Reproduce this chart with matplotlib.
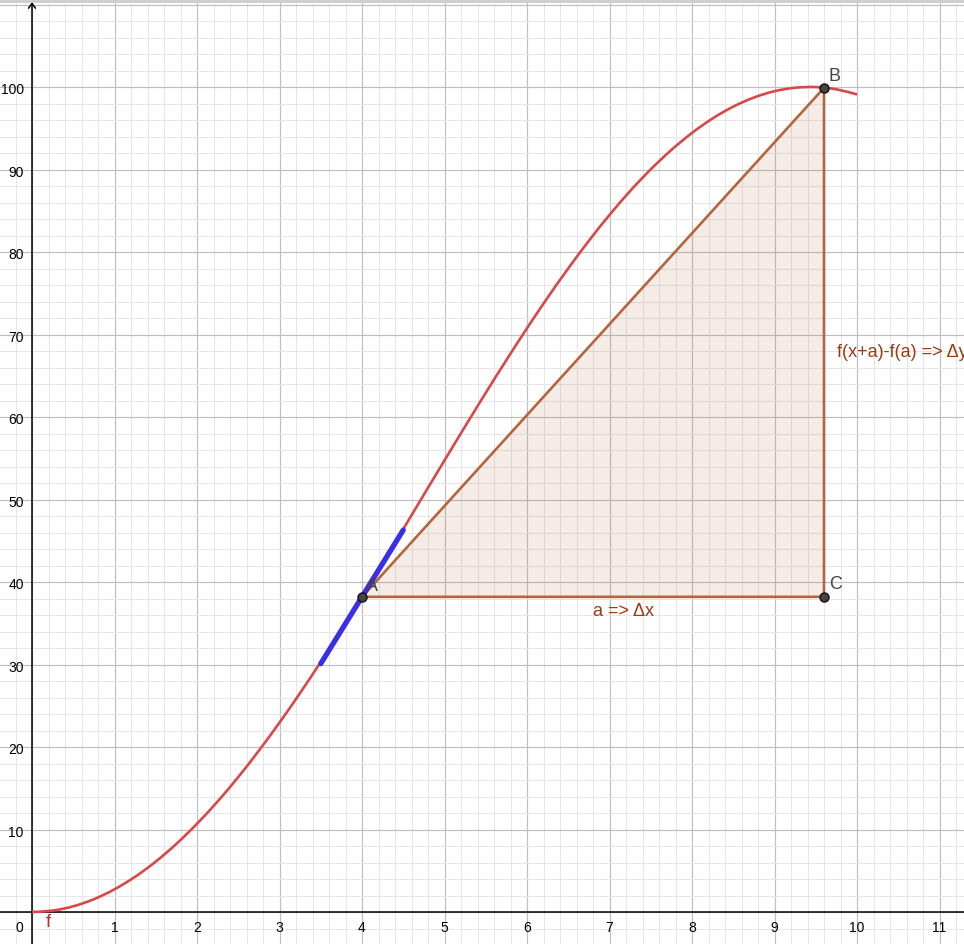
import matplotlib
matplotlib.use("Agg")
import matplotlib.pyplot as plt
from matplotlib.lines import Line2D
from matplotlib.path import Path
from matplotlib.patches import PathPatch

plt.rcParams['font.family'] = ['Liberation Sans', 'DejaVu Sans']

# curve f (step 0.25)
fx = [i * 0.25 for i in range(41)]
fy = [0.00, 0.17, 0.69, 1.55, 2.75, 4.27, 6.11, 8.26, 10.70, 13.40, 16.36,
      19.56, 22.96, 26.55, 30.31, 34.20, 38.20, 42.29, 46.42, 50.59, 54.74,
      58.86, 62.93, 66.90, 70.76, 74.47, 78.01, 81.36, 84.49, 87.39, 90.02,
      92.37, 94.43, 96.19, 97.62, 98.72, 99.49, 99.91, 99.99, 99.72, 99.10]

A = (4.0, 38.2)
B = (9.6, 99.9)
C = (9.6, 38.2)
tangent_x = [3.5, 4.5]
tangent_y = [30.1, 46.3]

x_ticks = list(range(1, 12))
y_ticks = list(range(10, 101, 10))

red = '#d94848'
brown = '#b5653d'
text_brown = '#9c3a12'


def smooth_path(xs, ys):
    # bezier path passing through the given points (catmull-rom handles)
    n = len(xs)
    verts = [(xs[0], ys[0])]
    codes = [Path.MOVETO]
    for i in range(n - 1):
        i0 = max(i - 1, 0)
        i3 = min(i + 2, n - 1)
        c1 = (xs[i] + (xs[i + 1] - xs[i0]) / 6, ys[i] + (ys[i + 1] - ys[i0]) / 6)
        c2 = (xs[i + 1] - (xs[i3] - xs[i]) / 6, ys[i + 1] - (ys[i3] - ys[i]) / 6)
        verts += [c1, c2, (xs[i + 1], ys[i + 1])]
        codes += [Path.CURVE4] * 3
    return Path(verts, codes)


fig = plt.figure(figsize=(9.64, 9.45), dpi=100)
ax = fig.add_axes([0, 0, 1, 1])

# grid
ax.set_xticks(range(0, 12))
ax.set_yticks(range(0, 111, 10))
ax.set_xticks([i * 0.2 for i in range(-1, 58)], minor=True)
ax.set_yticks(range(-2, 111, 2), minor=True)
ax.grid(which='minor', color='#e6e6e6', lw=0.75, zorder=0)
ax.grid(which='major', color='#bebebe', lw=0.85, zorder=0)
ax.tick_params(which='both', length=0, labelbottom=False, labelleft=False)
for s in ax.spines.values():
    s.set_visible(False)
ax.set_axisbelow(True)

# 82.5 px per x unit, 8.25 px per y unit, origin at (32, 913) px
ax.set_xlim(-32 / 82.5, 932 / 82.5)
ax.set_ylim(-32 / 8.25, 913 / 8.25)

# axes
ax.axhline(0, color='black', lw=1.1, zorder=2)
ax.annotate('', xy=(0, 110.3), xytext=(0, -4),
            arrowprops=dict(arrowstyle='->,head_length=0.35,head_width=0.25',
                            color='black', lw=1.1, shrinkA=0, shrinkB=0),
            zorder=2)

# tick labels
for t in x_ticks:
    ax.text(t, -2.3, str(t), ha='center', va='baseline', fontsize=10)
ax.text(-0.1, -2.3, '0', ha='right', va='baseline', fontsize=10)
for t in y_ticks:
    ax.text(-0.1, t - 0.75, str(t), ha='right', va='baseline', fontsize=10)

# triangle
tri_x = [A[0], B[0], C[0]]
tri_y = [A[1], B[1], C[1]]
ax.fill(tri_x, tri_y, facecolor=brown, alpha=0.12, edgecolor='none', zorder=3)
ax.plot(tri_x + [A[0]], tri_y + [A[1]], color=brown, lw=1.9, zorder=4,
        solid_joinstyle='round')

# function and tangent
ax.add_patch(PathPatch(smooth_path(fx, fy), fill=False, edgecolor=red,
                       lw=1.9, zorder=5, capstyle='butt'))
ax.plot(tangent_x, tangent_y, color='#3a2ee8', lw=3.8, zorder=6,
        solid_capstyle='round')

# points
for p in (A, B, C):
    ax.plot(p[0], p[1], 'o', ms=6.5, mfc='#444444', mec='#111111', mew=1,
            zorder=7)

ax.text(4.05, 39.0, 'A', fontsize=13, color='#444444', va='baseline', zorder=8)
ax.text(9.66, 100.8, 'B', fontsize=13, color='#444444', va='baseline', zorder=8)
ax.text(9.66, 39.3, 'C', fontsize=13, color='#444444', va='baseline', zorder=8)
ax.text(0.166, -1.75, 'f', fontsize=13, color='#cc2222', va='baseline', zorder=8)
ax.text(6.8, 36.0, 'a => Δx', fontsize=13, color=text_brown, va='baseline',
        zorder=8)
ax.text(9.76, 67.35, 'f(x+a)-f(a) => Δy', fontsize=13, color=text_brown,
        va='baseline', zorder=8, clip_on=False)

# view border at top
fig.add_artist(Line2D([0, 1], [1 - 1.5 / 945, 1 - 1.5 / 945], color='#cccccc',
                      lw=2))

fig.savefig('out.png', dpi=100)
